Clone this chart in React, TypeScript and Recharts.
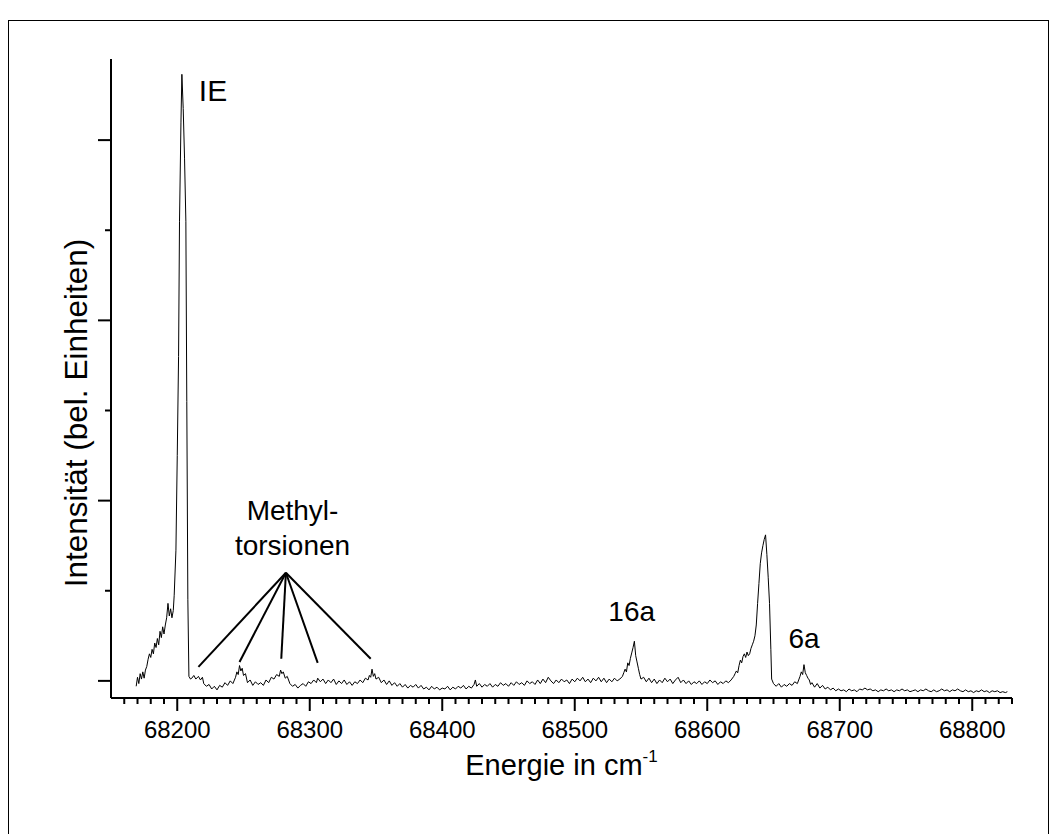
import { LineChart, Line, XAxis, YAxis, ReferenceLine, ReferenceDot, Label } from "recharts";

const FONT = '"Liberation Sans", Arial, Helvetica, sans-serif';

const ieBand: [number, number][] = [
  [68169, -0.06], [68170, 0.04], [68171, -0.03], [68172, 0.08], [68173, 0.02], [68174, 0.1],
  [68175, 0.03], [68176, 0.12], [68177, 0.16], [68178, 0.24], [68179, 0.3], [68180, 0.26],
  [68181, 0.35], [68182, 0.3], [68183, 0.42], [68184, 0.37], [68185, 0.47], [68186, 0.4],
  [68187, 0.55], [68188, 0.48], [68189, 0.6], [68190, 0.52], [68191, 0.62], [68192, 0.7],
  [68193, 0.86], [68194, 0.72], [68195, 0.8], [68196, 0.7], [68197, 0.78], [68197.7, 0.95],
  [68199, 1.45], [68200, 2.5], [68201, 3.6], [68201.7, 5.1], [68202.8, 6.2], [68203.5, 6.73],
  [68204.5, 6.35], [68205.5, 5.8], [68206.5, 5.1], [68207.2, 3.1], [68208, 0.9], [68208.8, 0.05],
  [68210, 0.02],
];

const torsionRegion: [number, number][] = [
  [68211, 0.03], [68212.5, 0.06], [68214, 0.02], [68216, 0.05], [68217.5, 0.01], [68219, 0.04],
  [68220, -0.03], [68222, -0.06], [68224, -0.04], [68226, -0.09], [68228, -0.06], [68230, -0.1],
  [68232, -0.05], [68234, -0.07], [68236, -0.02], [68238, -0.05], [68240, 0.0], [68242, -0.03],
  [68244, 0.04], [68245, 0.1], [68246, 0.07], [68247, 0.17], [68248, 0.11], [68249, 0.14],
  [68250, 0.06], [68251.5, 0.08], [68253, -0.02], [68255, 0.01], [68257, -0.05], [68259, -0.01],
  [68261, -0.04], [68263, -0.02], [68265, -0.05], [68267, 0.01], [68269, -0.02], [68271, 0.04],
  [68273, 0.02], [68275, 0.07], [68277, 0.05], [68278, 0.12], [68279, 0.08], [68280, 0.1],
  [68281.5, 0.03], [68283, 0.05], [68285, -0.03], [68287, -0.06], [68289, -0.04], [68291, -0.08],
  [68293, -0.05], [68295, -0.03], [68297, -0.06], [68299, -0.01], [68301, -0.03], [68303, 0.01],
  [68305, -0.02], [68306, 0.03], [68308, -0.01], [68310, 0.02], [68312, -0.03], [68314, 0.01],
  [68316, -0.02], [68318, 0.02], [68320, -0.04], [68322, 0.0], [68324, -0.03], [68326, 0.01],
  [68328, -0.04], [68330, -0.01], [68332, -0.05], [68334, -0.01], [68336, -0.03], [68338, 0.01],
  [68340, -0.02], [68342, 0.03], [68344, 0.01], [68345, 0.06], [68346, 0.04], [68347, 0.13],
  [68348, 0.05], [68349, 0.08], [68350, 0.02], [68352, 0.04], [68354, -0.02], [68356, 0.01],
  [68358, -0.04], [68360, 0.0], [68362, -0.05], [68364, -0.02], [68366, -0.06], [68368, -0.03],
  [68370, -0.07], [68372, -0.04], [68374, -0.08], [68376, -0.05], [68378, -0.07], [68380, -0.04],
];

const midRegion: [number, number][] = [
  [68382, -0.08], [68384, -0.05], [68386, -0.09], [68388, -0.07], [68390, -0.1], [68392, -0.06],
  [68394, -0.09], [68396, -0.07], [68398, -0.1], [68400, -0.08], [68402, -0.09], [68404, -0.06],
  [68406, -0.1], [68408, -0.07], [68410, -0.09], [68412, -0.06], [68414, -0.08], [68416, -0.05],
  [68418, -0.09], [68420, -0.06], [68422, -0.08], [68424, -0.04], [68425, 0.01], [68426, -0.06],
  [68428, -0.03], [68430, -0.07], [68432, -0.04], [68434, -0.06], [68436, -0.03], [68438, -0.07],
  [68440, -0.04], [68442, -0.06], [68444, -0.02], [68446, -0.05], [68448, -0.03], [68450, -0.06],
  [68452, -0.02], [68454, -0.05], [68456, -0.01], [68458, -0.04], [68460, -0.02], [68462, -0.05],
  [68464, 0.0], [68466, -0.03], [68468, -0.01], [68470, -0.04], [68472, 0.01], [68474, -0.03],
  [68476, 0.02], [68478, -0.02], [68480, 0.04], [68482, 0.0], [68484, -0.03], [68486, 0.01],
  [68488, -0.02], [68490, 0.02], [68492, -0.01], [68494, 0.01], [68496, -0.03], [68498, 0.02],
  [68500, -0.01], [68502, 0.03], [68504, 0.0], [68506, 0.04], [68508, -0.01], [68510, 0.02],
  [68512, -0.02], [68514, 0.03], [68516, 0.0], [68518, 0.04], [68520, -0.01], [68522, 0.03],
  [68524, -0.02], [68526, 0.02], [68528, -0.01], [68530, 0.03], [68532, 0.0], [68534, 0.02],
];

const band16a: [number, number][] = [
  [68536, 0.05], [68537, 0.09], [68538, 0.13], [68539, 0.1], [68540, 0.2], [68541, 0.17],
  [68542, 0.25], [68543, 0.31], [68544, 0.37], [68545, 0.44], [68546, 0.28], [68547, 0.21],
  [68548, 0.14], [68549, 0.07], [68550, 0.02], [68552, 0.04], [68554, -0.01], [68556, 0.03],
  [68558, -0.02], [68560, 0.02], [68562, -0.03], [68564, 0.01], [68566, -0.02], [68568, 0.03],
  [68570, -0.01], [68572, 0.02], [68574, -0.03], [68576, 0.01], [68578, 0.04], [68580, -0.02],
  [68582, 0.01], [68584, -0.03], [68586, 0.0], [68588, -0.04], [68590, -0.01], [68592, -0.03],
  [68594, 0.0], [68596, -0.04], [68598, -0.01], [68600, -0.03], [68602, 0.01], [68604, -0.02],
  [68606, 0.0], [68608, -0.04], [68610, -0.01], [68612, -0.03], [68614, 0.0], [68616, -0.02],
  [68618, 0.01],
];

const mainBand: [number, number][] = [
  [68620, 0.05], [68621, 0.08], [68622, 0.11], [68623, 0.09], [68624, 0.17], [68625, 0.23],
  [68626, 0.2], [68627, 0.27], [68628, 0.3], [68629, 0.26], [68630, 0.32], [68631, 0.28],
  [68632, 0.3], [68633, 0.36], [68634, 0.4], [68635, 0.44], [68636, 0.5], [68637, 0.62],
  [68638, 0.86], [68639, 1.08], [68640, 1.3], [68641, 1.42], [68642, 1.5], [68643, 1.57],
  [68644, 1.62], [68645, 1.4], [68646, 1.15], [68647, 0.86], [68648, 0.35], [68648.6, 0.02],
  [68650, -0.03], [68652, -0.06], [68654, -0.03], [68656, -0.07], [68658, -0.04], [68660, -0.06],
  [68662, -0.03], [68664, -0.05], [68666, -0.01], [68668, -0.03], [68669, 0.01], [68670, 0.05],
  [68671, 0.1], [68672, 0.07], [68673, 0.18], [68674, 0.09], [68675, 0.06], [68676, 0.03],
  [68677, 0.01], [68678, -0.04], [68679, -0.02], [68681, -0.07], [68683, -0.03], [68685, -0.08],
  [68687, -0.05], [68689, -0.09], [68691, -0.07],
];

const tailRegion: [number, number][] = [
  [68693, -0.1], [68695, -0.08], [68697, -0.11], [68699, -0.09], [68701, -0.11], [68703, -0.1],
  [68705, -0.12], [68707, -0.09], [68709, -0.11], [68711, -0.1], [68713, -0.12], [68715, -0.09],
  [68717, -0.1], [68719, -0.08], [68721, -0.1], [68723, -0.09], [68725, -0.11], [68727, -0.1],
  [68729, -0.12], [68731, -0.1], [68733, -0.11], [68735, -0.09], [68737, -0.11], [68739, -0.1],
  [68741, -0.12], [68743, -0.1], [68745, -0.11], [68747, -0.09], [68749, -0.11], [68751, -0.1],
  [68753, -0.12], [68755, -0.11], [68757, -0.1], [68759, -0.12], [68761, -0.1], [68763, -0.11],
  [68765, -0.09], [68767, -0.11], [68769, -0.12], [68771, -0.1], [68773, -0.12], [68775, -0.11],
  [68777, -0.09], [68779, -0.11], [68781, -0.1], [68783, -0.12], [68785, -0.1], [68787, -0.11],
  [68789, -0.09], [68791, -0.11], [68793, -0.12], [68795, -0.1], [68797, -0.12], [68799, -0.11],
  [68801, -0.13], [68803, -0.11], [68805, -0.12], [68807, -0.1], [68809, -0.12], [68811, -0.11],
  [68813, -0.13], [68815, -0.11], [68817, -0.12], [68819, -0.11], [68821, -0.13], [68823, -0.12],
  [68825, -0.13], [68826.5, -0.12],
];

const xMajorTicks = [68200, 68300, 68400, 68500, 68600, 68700, 68800];
const xTicks = [
  68160, 68170, 68180, 68190, 68200, 68210, 68220, 68230, 68240, 68250, 68260, 68270, 68280, 68290,
  68300, 68310, 68320, 68330, 68340, 68350, 68360, 68370, 68380, 68390, 68400, 68410, 68420, 68430,
  68440, 68450, 68460, 68470, 68480, 68490, 68500, 68510, 68520, 68530, 68540, 68550, 68560, 68570,
  68580, 68590, 68600, 68610, 68620, 68630, 68640, 68650, 68660, 68670, 68680, 68690, 68700, 68710,
  68720, 68730, 68740, 68750, 68760, 68770, 68780, 68790, 68800, 68810, 68820, 68830,
];
const yTicks = [0, 1, 2, 3, 4, 5, 6];
const yMajorTicks = [0, 2, 4, 6];

// Beschriftungen
const torsionApex = { e: 68282, i: 1.2 };
const torsionTargets: [number, number][] = [
  [68216, 0.155], [68247, 0.21], [68278.5, 0.245], [68306, 0.2], [68346, 0.245],
];
const peakLabels = [
  { text: "IE", e: 68227, i: 6.43, size: 30 },
  { text: "16a", e: 68543, i: 0.66, size: 28 },
  { text: "6a", e: 68673, i: 0.37, size: 28 },
];
const torsionLabel = [
  { text: "Methyl-", e: 68287, i: 1.79, size: 28 },
  { text: "torsionen", e: 68287, i: 1.4, size: 28 },
];

const data = [...ieBand, ...torsionRegion, ...midRegion, ...band16a, ...mainBand, ...tailRegion].map(
  ([e, i]) => ({ e, i })
);

function XTick(props: any) {
  const { x, y, payload } = props;
  const major = xMajorTicks.includes(payload.value);
  return (
    <g>
      <line x1={x} x2={x} y1={y} y2={y + (major ? 13 : 6)} stroke="#000" strokeWidth={2} />
      {major && (
        <text x={x} y={y + 40} textAnchor="middle" fontSize={24} fontFamily={FONT} fill="#000">
          {payload.value}
        </text>
      )}
    </g>
  );
}

function YTick(props: any) {
  const { x, y, payload } = props;
  const major = yMajorTicks.includes(payload.value);
  return <line x1={x} x2={x - (major ? 13 : 6)} y1={y} y2={y} stroke="#000" strokeWidth={2} />;
}

function XLabel(props: any) {
  const vb = props.viewBox;
  return (
    <text x={vb.x + vb.width / 2} y={vb.y + 77} textAnchor="middle" fontSize={29} fontFamily={FONT} fill="#000">
      Energie in cm
      <tspan fontSize={17} dy={-13}>-1</tspan>
    </text>
  );
}

function YLabel(props: any) {
  const vb = props.viewBox;
  const cx = 87;
  const cy = vb.y + 354;
  return (
    <text x={cx} y={cy} textAnchor="middle" fontSize={31.5} fontFamily={FONT} fill="#000" transform={`rotate(-90, ${cx}, ${cy})`}>
      Intensität (bel. Einheiten)
    </text>
  );
}

function textLabel(text: string, size: number) {
  return (props: any) => {
    const vb = props.viewBox;
    return (
      <text x={vb.x} y={vb.y} textAnchor="middle" fontSize={size} fontFamily={FONT} fill="#000">
        {text}
      </text>
    );
  };
}

export default function App() {
  return (
    <div style={{ position: "absolute", left: 0, top: 0, width: 1056, height: 834, overflow: "hidden", background: "#fff" }}>
      <div
        style={{
          position: "absolute",
          left: 8,
          top: 20,
          width: 1041,
          height: 900,
          border: "1.5px solid #000",
          boxSizing: "border-box",
        }}
      />
      <div style={{ position: "absolute", left: 0, top: 0 }}>
        <LineChart width={1056} height={834} data={data} margin={{ top: 59, right: 44, left: 0, bottom: 0 }}>
          <XAxis
            type="number"
            dataKey="e"
            domain={[68150, 68830]}
            ticks={xTicks}
            interval={0}
            allowDataOverflow
            height={136}
            tickSize={0}
            tickMargin={0}
            tickLine={false}
            tick={<XTick />}
            axisLine={{ stroke: "#000", strokeWidth: 2 }}
          >
            <Label content={<XLabel />} />
          </XAxis>
          <YAxis
            type="number"
            domain={[-0.19, 6.9]}
            ticks={yTicks}
            interval={0}
            allowDataOverflow
            width={111}
            tickSize={0}
            tickMargin={0}
            tickLine={false}
            tick={<YTick />}
            axisLine={{ stroke: "#000", strokeWidth: 2 }}
          >
            <Label content={<YLabel />} />
          </YAxis>
          <Line
            type="linear"
            dataKey="i"
            stroke="#000"
            strokeWidth={1}
            dot={false}
            activeDot={false}
            isAnimationActive={false}
          />
          {torsionTargets.map(([e, i], k) => (
            <ReferenceLine
              key={k}
              segment={[{ x: torsionApex.e, y: torsionApex.i }, { x: e, y: i }]}
              stroke="#000"
              strokeWidth={2}
              ifOverflow="visible"
            />
          ))}
          {[...peakLabels, ...torsionLabel].map((l) => (
            <ReferenceDot
              key={l.text}
              x={l.e}
              y={l.i}
              r={0}
              fill="none"
              stroke="none"
              ifOverflow="visible"
              label={textLabel(l.text, l.size)}
            />
          ))}
        </LineChart>
      </div>
    </div>
  );
}
